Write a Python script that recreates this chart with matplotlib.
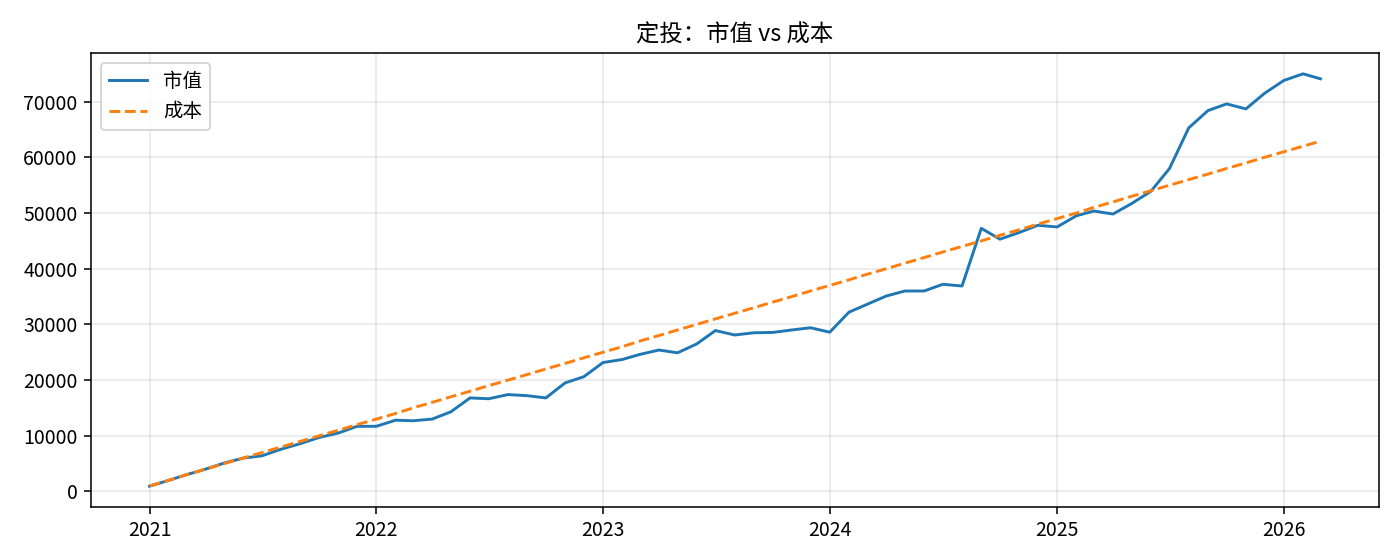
import pandas as pd
import matplotlib
matplotlib.use("Agg")
import matplotlib.pyplot as plt

plt.rcParams['font.family'] = ['Noto Sans CJK SC', 'DejaVu Sans']

# monthly points, 2021-01 .. 2026-03
dates = pd.date_range("2021-01-01", "2026-03-01", freq="MS")

market_value = [
    950, 2000, 3000, 4000, 5100, 6000, 6400, 7600, 8600, 9700, 10500, 11700,
    11700, 12800, 12700, 13000, 14300, 16800, 16650, 17400, 17200, 16800, 19500, 20600,
    23150, 23700, 24600, 25400, 24900, 26500, 28900, 28100, 28500, 28560, 29000, 29400,
    28600, 32200, 33600, 35100, 36000, 36000, 37200, 36900, 47250, 45300, 46500, 47800,
    47500, 49500, 50360, 49820, 51700, 53900, 58000, 65300, 68400, 69600, 68700, 71500,
    73800, 75000, 74100,
]

cost = [
    1000, 2000, 3000, 4000, 5000, 6000, 7000, 8000, 9000, 10000, 11000, 12000,
    13000, 14000, 15000, 16000, 17000, 18000, 19000, 20000, 21000, 22000, 23000, 24000,
    25000, 26000, 27000, 28000, 29000, 30000, 31000, 32000, 33000, 34000, 35000, 36000,
    37000, 38000, 39000, 40000, 41000, 42000, 43000, 44000, 45000, 46000, 47000, 48000,
    49000, 50000, 51000, 52000, 53000, 54000, 55000, 56000, 57000, 58000, 59000, 60000,
    61000, 62000, 62900,
]

fig, ax = plt.subplots(figsize=(10, 4), dpi=140)
ax.plot(dates, market_value, label="市值")
ax.plot(dates, cost, "--", label="成本")
ax.set_title("定投：市值 vs 成本")
ax.grid(True, alpha=0.3)
ax.legend(loc="upper left")
fig.subplots_adjust(left=0.065, right=0.985, top=0.905, bottom=0.095)
fig.savefig("out.png")
